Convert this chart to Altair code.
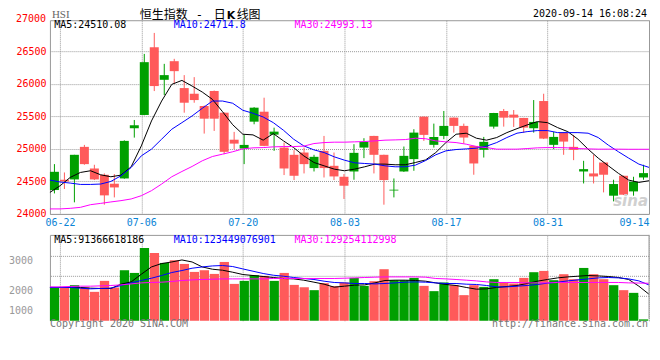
import altair as alt
import pandas as pd

# ---------------- data ----------------
dates = ["06-19", "06-22", "06-23", "06-24", "06-26", "06-29", "06-30", "07-02", "07-03", "07-06",
         "07-07", "07-08", "07-09", "07-10", "07-13", "07-14", "07-15", "07-16", "07-17", "07-20",
         "07-21", "07-22", "07-23", "07-24", "07-27", "07-28", "07-29", "07-30", "07-31", "08-03",
         "08-04", "08-05", "08-06", "08-07", "08-10", "08-11", "08-12", "08-13", "08-14", "08-17",
         "08-18", "08-19", "08-20", "08-21", "08-24", "08-25", "08-26", "08-27", "08-28", "08-31",
         "09-01", "09-02", "09-03", "09-04", "09-07", "09-08", "09-09", "09-10", "09-11", "09-14"]
opens = [24367, 24525, 24530, 25030, 24698, 24601, 24464, 24545, 25316, 25520,
         26560, 26060, 26346, 25933, 25846, 25658, 25888, 25555, 25140, 25004,
         25417, 25570, 25218, 25019, 24908, 24943, 24704, 24969, 24739, 24571,
         24652, 25019, 25198, 24908, 24360, 24652, 24842, 25494, 25061, 25198,
         25479, 25352, 25045, 24985, 25341, 25581, 25525, 25474, 25316, 25734,
         25061, 25249, 25030, 24652, 24622, 24790, 24280, 24586, 24346, 24560]
highs = [24765, 24637, 24908, 25060, 24755, 24622, 24612, 25130, 25443, 26458,
         26780, 26305, 26382, 26132, 26101, 25665, 25895, 25560, 25260, 25214,
         25640, 25785, 25325, 25096, 24980, 25019, 24908, 25198, 24943, 24612,
         25071, 25163, 25200, 24910, 24545, 25035, 25301, 25496, 25387, 25581,
         25481, 25387, 25047, 25183, 25552, 25612, 25596, 25476, 25749, 25846,
         25260, 25251, 25214, 24816, 24908, 24792, 24525, 24588, 24571, 24755]
lows = [24315, 24383, 24178, 24755, 24520, 24142, 24254, 24540, 25172, 25515,
        25887, 25826, 25999, 25555, 25708, 25234, 25275, 24918, 24995, 24765,
        25377, 25040, 24969, 24597, 24520, 24622, 24652, 24560, 24520, 24230,
        24525, 24857, 24622, 24142, 24254, 24645, 24663, 25122, 25019, 25148,
        25249, 25081, 24602, 24866, 25310, 25341, 25336, 25249, 25249, 25150,
        24995, 24908, 24826, 24468, 24468, 24331, 24193, 24290, 24280, 24525]
closes = [24647, 24500, 24908, 24765, 24530, 24285, 24407, 25122, 25362, 26331,
          25964, 26132, 26193, 25708, 25749, 25463, 25463, 24954, 25080, 25060,
          25632, 25045, 25264, 24698, 24586, 24765, 24877, 24704, 24576, 24433,
          24938, 25107, 24908, 24520, 24372, 24892, 25249, 25214, 25182, 25352,
          25352, 25173, 24775, 25107, 25550, 25479, 25479, 25326, 25413, 25157,
          25183, 25111, 24984, 24688, 24576, 24602, 24459, 24295, 24494, 24627]
ma5 = [24331, 24433, 24561, 24637, 24663, 24601, 24571, 24596, 24724, 25045,
       25428, 25734, 25990, 26051, 25964, 25872, 25760, 25570, 25370, 25224,
       25214, 25133, 25234, 25122, 25019, 24892, 24790, 24739, 24688, 24663,
       24688, 24724, 24765, 24765, 24755, 24755, 24790, 24830, 24943, 25096,
       25224, 25240, 25163, 25133, 25173, 25249, 25310, 25367, 25418, 25402,
       25326, 25264, 25148, 24995, 24857, 24739, 24622, 24520, 24484, 24510]
ma10 = [24520, 24490, 24474, 24453, 24453, 24459, 24499, 24586, 24713, 24892,
        24995, 25148, 25301, 25402, 25505, 25622, 25734, 25734, 25700, 25592,
        25546, 25489, 25402, 25285, 25148, 25045, 24984, 24943, 24877, 24826,
        24785, 24775, 24765, 24739, 24724, 24724, 24750, 24820, 24908, 24969,
        24989, 24999, 25010, 25041, 25096, 25173, 25240, 25264, 25280, 25280,
        25249, 25249, 25249, 25240, 25173, 25056, 24954, 24857, 24765, 24715]
ma30 = [24077, 24077, 24086, 24101, 24142, 24162, 24184, 24204, 24230, 24280,
        24357, 24459, 24571, 24652, 24729, 24816, 24882, 24918, 24955, 24999,
        25015, 25019, 25030, 25035, 25035, 25041, 25081, 25096, 25102, 25102,
        25107, 25112, 25122, 25133, 25137, 25142, 25163, 25155, 25122, 25107,
        25096, 25071, 25035, 25019, 24995, 24995, 24995, 25004, 25015, 25019,
        25019, 25015, 25004, 24999, 24995, 24995, 24995, 24993, 24993, 24993]
# turnover, 100 million HKD
volumes = [1148, 1148, 1227, 1148, 997, 1375, 1148, 1742, 1649, 2509,
           2337, 1993, 2086, 1959, 1684, 1742, 1615, 2027, 1271, 1375,
           1570, 1546, 1375, 1649, 1237, 1158, 1055, 1296, 1192, 1320,
           1478, 1203, 1364, 1777, 1399, 1399, 1478, 1203, 1021, 1320,
           1227, 883, 1227, 1168, 1433, 1320, 1285, 1478, 1674, 1718,
           1399, 1605, 1433, 1821, 1605, 1433, 1227, 1055, 962, 48]
vma5 = [1148, 1148, 1148, 1148, 1124, 1113, 1113, 1261, 1340, 1605,
        1856, 1972, 2027, 2096, 2027, 1856, 1777, 1742, 1674, 1594,
        1560, 1526, 1491, 1457, 1443, 1399, 1330, 1261, 1158, 1192,
        1227, 1237, 1306, 1388, 1399, 1399, 1388, 1364, 1306, 1251,
        1216, 1148, 1089, 1100, 1148, 1182, 1216, 1285, 1364, 1423,
        1478, 1512, 1536, 1560, 1546, 1526, 1491, 1423, 1192, 914]
vma10 = [1148, 1148, 1148, 1124, 1100, 1113, 1124, 1216, 1306, 1388,
         1467, 1560, 1663, 1732, 1811, 1856, 1890, 1904, 1869, 1787,
         1708, 1629, 1570, 1536, 1491, 1457, 1423, 1364, 1320, 1306,
         1285, 1285, 1271, 1285, 1306, 1330, 1340, 1330, 1306, 1285,
         1285, 1261, 1251, 1216, 1168, 1168, 1192, 1216, 1251, 1296,
         1330, 1375, 1409, 1443, 1478, 1491, 1478, 1443, 1375, 1235]
vma30 = [1168, 1168, 1182, 1192, 1192, 1203, 1216, 1237, 1271, 1306,
         1320, 1330, 1354, 1388, 1409, 1423, 1433, 1443, 1443, 1443,
         1443, 1443, 1457, 1457, 1457, 1457, 1457, 1457, 1457, 1467,
         1478, 1491, 1502, 1512, 1512, 1512, 1512, 1502, 1457, 1443,
         1423, 1399, 1375, 1340, 1320, 1320, 1320, 1306, 1306, 1306,
         1320, 1320, 1320, 1320, 1320, 1320, 1320, 1306, 1300, 1293]

tick_dates = ["06-22", "07-06", "07-20", "08-03", "08-17", "08-31", "09-14"]
price_ticks = [24000, 24500, 25000, 25500, 26000, 26500]
price_top_tick = [27000]
vol_grid_values = [843, 1532, 2220]
vol_label_values = [345, 1030, 2090]
vol_label_texts = ["1000", "2000", "3000"]
series_names = ["MA5", "MA10", "MA30"]
main_legend = ["MA5:24510.08", "MA10:24714.8", "MA30:24993.13"]
vol_legend = ["MA5:91366618186", "MA10:123449076901", "MA30:129254112998"]
title_parts = ["恒生指数", "-", "日", "K", "线图"]   # "恒生指数 - 日K线图"
symbol_text = "HSI"
time_text = "2020-09-14 16:08:24"
copyright_text = "Copyright 2020 SINA.COM"
url_text = "http://finance.sina.com.cn"

# ---------------- styling ----------------
N = len(dates)
FONT = "DejaVu Sans Mono"
CJK = "Noto Sans CJK SC"
GRID = "#999999"
BORDER = "#999999"
UP, DOWN = "#00a000", "#ff5a5a"
MA_COLORS = ["#000000", "#0000ff", "#ff00ff"]
W, H_MAIN, H_VOL = 600, 194, 86

df = pd.DataFrame({"i": range(N), "date": dates, "open": opens, "high": highs,
                   "low": lows, "close": closes, "vol": volumes})
df["dir"] = ["up" if c >= o else "down" for o, c in zip(opens, closes)]

ma_df = pd.DataFrame({"i": list(range(N)) * 3, "value": ma5 + ma10 + ma30,
                      "series": [s for s in series_names for _ in range(N)]})
vma_df = pd.DataFrame({"i": list(range(N)) * 3, "value": vma5 + vma10 + vma30,
                       "series": [s for s in series_names for _ in range(N)]})

x_scale = alt.Scale(domain=[0, N], nice=False, zero=False)
y_main = alt.Scale(domain=[24000, 26975], nice=False, zero=False)
y_vol = alt.Scale(domain=[0, 2960], nice=False, zero=False)

tick_pos = [dates.index(d) * N / (N - 1) for d in tick_dates]
date_js = "[" + ",".join("'%s'" % d for d in dates) + "]"
x_label_expr = "%s[round(datum.value*%d/%d)]" % (date_js, N - 1, N)
vol_label_expr = "[%s][indexof([%s], datum.value)]" % (
    ",".join("'%s'" % t for t in vol_label_texts), ",".join(str(v) for v in vol_label_values))

dir_color = alt.Color("dir:N", scale=alt.Scale(domain=["up", "down"], range=[UP, DOWN]), legend=None)
ma_stroke = alt.Stroke("series:N", scale=alt.Scale(domain=series_names, range=MA_COLORS), legend=None)

x_axis_main = alt.Axis(values=tick_pos, labelExpr=x_label_expr, grid=True, gridColor=GRID,
                       gridDash=[1, 1], gridOpacity=1, ticks=False, domain=False,
                       labelColor="#0a84d6", labelFont=FONT, labelFontSize=10, labelPadding=4,
                       labelFlush=True, labelOverlap=False, title=None)
y_axis_main = alt.Axis(values=price_ticks, format="d", grid=True, gridColor=GRID, gridDash=[1, 1],
                       gridOpacity=1, ticks=False, domain=False, labelColor="#ff0000",
                       labelFont=FONT, labelFontSize=10, labelPadding=4, title=None)
# volume panel: top border drawn by a top axis domain, left border by the y axis domain
x_axis_vol = alt.Axis(orient="top", values=tick_pos, grid=True, gridColor=GRID, gridDash=[1, 1],
                      gridOpacity=1, labels=False, ticks=False, domain=True, domainColor=BORDER,
                      title=None)
y_axis_vol = alt.Axis(values=vol_label_values, labelExpr=vol_label_expr, grid=False, ticks=False,
                      domain=True, domainColor=BORDER, labelColor="#999999", labelFont=FONT,
                      labelFontSize=10, labelPadding=17.5, title=None)


def text_mark(text, x, y, color, size=10, font=FONT, align="left", baseline="alphabetic", **kw):
    return alt.Chart(alt.Data(values=[{"t": text}])).mark_text(
        align=align, baseline=baseline, font=font, fontSize=size, color=color, **kw
    ).encode(x=alt.value(x), y=alt.value(y), text="t:N")


# ---------------- main (K line) panel ----------------
cbase = alt.Chart(df).transform_calculate(x0="datum.i", x1="datum.i + 0.9", xm="datum.i + 0.45")
bodies = cbase.mark_bar().encode(
    x=alt.X("x0:Q", scale=x_scale, axis=x_axis_main), x2="x1:Q",
    y=alt.Y("open:Q", scale=y_main, axis=y_axis_main), y2="close:Q",
    color=dir_color)
wicks = cbase.mark_rule(strokeWidth=1).encode(
    x=alt.X("xm:Q", scale=x_scale, axis=x_axis_main),
    y=alt.Y("low:Q", scale=y_main, axis=y_axis_main), y2="high:Q",
    color=dir_color)
ma_lines = alt.Chart(ma_df).transform_calculate(xl="datum.i * %d / %d" % (N, N - 1)).mark_line(
    strokeWidth=1).encode(
    x=alt.X("xl:Q", scale=x_scale, axis=x_axis_main),
    y=alt.Y("value:Q", scale=y_main, axis=y_axis_main),
    stroke=ma_stroke, detail="series:N")
top_tick = alt.Chart(pd.DataFrame({"v": price_top_tick})).mark_text(
    align="right", baseline="middle", dx=-4, font=FONT, fontSize=10, color="#ff0000").encode(
    x=alt.value(0), y=alt.Y("v:Q", scale=y_main, axis=y_axis_main),
    text=alt.Text("v:Q", format="d"))

main_texts = [
    text_mark(main_legend[0], 4.3, 7.7, MA_COLORS[0]),
    text_mark(main_legend[1], 124, 7.7, MA_COLORS[1]),
    text_mark(main_legend[2], 245, 7.7, MA_COLORS[2]),
    text_mark(title_parts[0], 90, -1, "#000000", size=12, font=CJK),
    text_mark(title_parts[1], 146, -1, "#000000", size=12, font=FONT),
    text_mark(title_parts[2], 164, -1, "#000000", size=12, font=CJK),
    text_mark(title_parts[3], 177, -1, "#000000", size=11, font="DejaVu Sans", fontWeight="bold"),
    text_mark(title_parts[4], 187, -1, "#000000", size=12, font=CJK),
    text_mark(symbol_text, 2, -2, "#666666", size=11, font="Liberation Serif"),
    text_mark(time_text, 598, -3, "#000000", align="right"),
    text_mark("sina", 599, 186, "#d0d0d0", size=15, font="DejaVu Sans", align="right",
              fontStyle="italic", fontWeight="bold"),
]
main = alt.layer(bodies, wicks, ma_lines, top_tick, *main_texts).properties(width=W, height=H_MAIN)

# ---------------- volume panel ----------------
vbase = alt.Chart(df).transform_calculate(x0="datum.i", x1="datum.i + 0.93", base="0")
vgrid = alt.Chart(pd.DataFrame({"g": vol_grid_values})).mark_rule(
    color=GRID, strokeDash=[1, 1], strokeWidth=1).encode(
    y=alt.Y("g:Q", scale=y_vol, axis=y_axis_vol))
vbars = vbase.mark_bar().encode(
    x=alt.X("x0:Q", scale=x_scale, axis=x_axis_vol), x2="x1:Q",
    y=alt.Y("vol:Q", scale=y_vol, axis=y_axis_vol), y2="base:Q",
    color=dir_color)
vma_lines = alt.Chart(vma_df).transform_calculate(xl="datum.i * %d / %d" % (N, N - 1)).mark_line(
    strokeWidth=1).encode(
    x=alt.X("xl:Q", scale=x_scale, axis=x_axis_vol),
    y=alt.Y("value:Q", scale=y_vol, axis=y_axis_vol),
    stroke=ma_stroke, detail="series:N")
right_border = alt.Chart(pd.DataFrame({"x": [N]})).mark_rule(color=BORDER, strokeWidth=1).encode(
    x=alt.X("x:Q", scale=x_scale, axis=x_axis_vol), y=alt.value(0), y2=alt.value(H_VOL - 2))
vol_texts = [
    text_mark(vol_legend[0], 4.3, 7.7, MA_COLORS[0]),
    text_mark(vol_legend[1], 124, 7.7, MA_COLORS[1]),
    text_mark(vol_legend[2], 245, 7.7, MA_COLORS[2]),
    text_mark(copyright_text, 0, 92.5, "#777777"),
    text_mark(url_text, 599, 92.5, "#777777", align="right"),
]
vol = alt.layer(vgrid, vbars, vma_lines, right_border, *vol_texts).properties(
    width=W, height=H_VOL, view=alt.ViewBackground(stroke=None))

chart = alt.vconcat(main, vol, spacing=21, bounds="flush").properties(
    padding=0, background="#ffffff"
).configure_view(stroke=BORDER, strokeWidth=1)

chart.save("out.html", embed_options={"renderer": "svg", "actions": False})
